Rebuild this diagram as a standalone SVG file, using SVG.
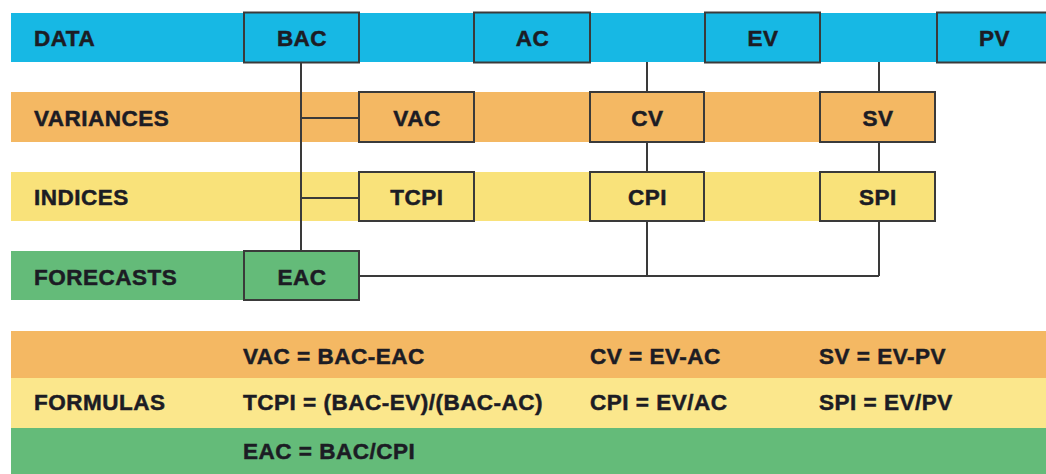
<svg xmlns="http://www.w3.org/2000/svg" width="1046" height="474" viewBox="0 0 1046 474">
<style>
text{font-family:"Liberation Sans",Arial,sans-serif;font-weight:bold;font-size:22.5px;letter-spacing:0.5px;fill:#1c1c24;stroke:#1c1c24;stroke-width:0.5px}
.c{text-anchor:middle}
.box{stroke:#3a3a3a;stroke-width:2}
.blue{fill:#17b8e4}
.orange{fill:#f4b863}
.yellow{fill:#f9e27a}
.yellow2{fill:#fbe78c}
.green{fill:#64bb79}
.ln{stroke:#3a3a3a;stroke-width:2;fill:none}
</style>
<rect width="1046" height="474" fill="#ffffff"/>
<g id="bands">
<rect class="blue" x="11" y="13" width="1035" height="49"/>
<rect class="orange" x="11" y="92" width="924" height="50"/>
<rect class="yellow" x="11" y="172" width="924" height="49"/>
<rect class="green" x="11" y="251" width="348" height="49"/>
<rect class="orange" x="11" y="331" width="1035" height="47"/>
<rect class="yellow2" x="11" y="378" width="1035" height="50"/>
<rect class="green" x="11" y="428" width="1035" height="46"/>
</g>
<g id="row-labels">
<text x="34" y="46">DATA</text>
<text x="34" y="126">VARIANCES</text>
<text x="34" y="205">INDICES</text>
<text x="34" y="285">FORECASTS</text>
<text x="34" y="410">FORMULAS</text>
</g>
<g id="connectors">
<path class="ln" d="M301,63 V251"/>
<path class="ln" d="M301,118 H359"/>
<path class="ln" d="M301,198 H359"/>
<path class="ln" d="M647,62 V92 M647,142 V172 M647,221 V276"/>
<path class="ln" d="M879,62 V92 M879,142 V172 M879,221 V276"/>
<path class="ln" d="M359,276 H879"/>
</g>
<g id="node-BAC"><rect class="box blue" x="244" y="12.5" width="115" height="50"/><text class="c" x="302" y="46">BAC</text></g>
<g id="node-AC"><rect class="box blue" x="474" y="12.5" width="116" height="50"/><text class="c" x="532.5" y="46">AC</text></g>
<g id="node-EV"><rect class="box blue" x="705" y="12.5" width="115" height="50"/><text class="c" x="763" y="46">EV</text></g>
<g id="node-PV"><rect class="box blue" x="937" y="12.5" width="115" height="50"/><text class="c" x="994.5" y="46">PV</text></g>
<g id="node-VAC"><rect class="box orange" x="359" y="92" width="115" height="50"/><text class="c" x="417" y="126">VAC</text></g>
<g id="node-CV"><rect class="box orange" x="590" y="92" width="114" height="50"/><text class="c" x="647.5" y="126">CV</text></g>
<g id="node-SV"><rect class="box orange" x="820" y="92" width="115" height="50"/><text class="c" x="878" y="126">SV</text></g>
<g id="node-TCPI"><rect class="box yellow" x="359" y="172" width="115" height="49"/><text class="c" x="417" y="205">TCPI</text></g>
<g id="node-CPI"><rect class="box yellow" x="590" y="172" width="114" height="49"/><text class="c" x="647.5" y="205">CPI</text></g>
<g id="node-SPI"><rect class="box yellow" x="820" y="172" width="115" height="49"/><text class="c" x="878" y="205">SPI</text></g>
<g id="node-EAC"><rect class="box green" x="244" y="251" width="115" height="49"/><text class="c" x="302" y="285">EAC</text></g>
<g id="formulas">
<text x="243" y="364">VAC = BAC-EAC</text>
<text x="590" y="364">CV = EV-AC</text>
<text x="819" y="364">SV = EV-PV</text>
<text x="243" y="410">TCPI = (BAC-EV)/(BAC-AC)</text>
<text x="590" y="410">CPI = EV/AC</text>
<text x="819" y="410">SPI = EV/PV</text>
<text x="243" y="459">EAC = BAC/CPI</text>
</g>
</svg>
